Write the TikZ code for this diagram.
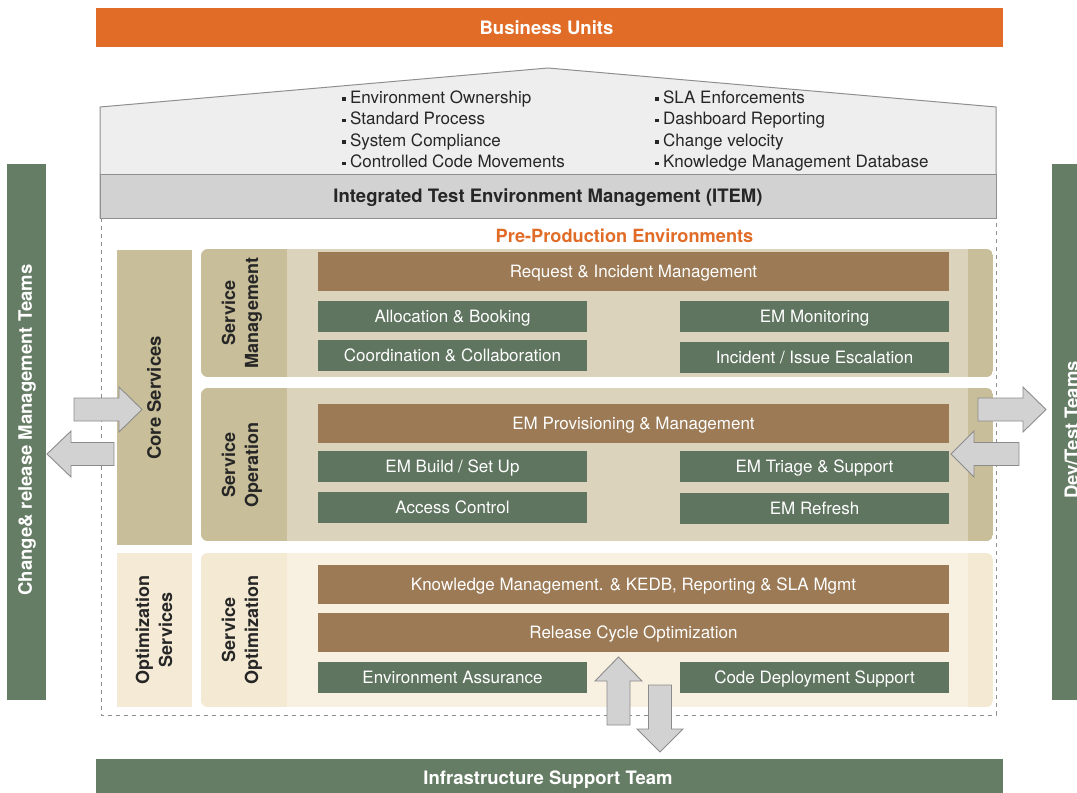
\documentclass[tikz,border=0pt]{standalone}
\usepackage{fontspec}
\setmainfont{TeX Gyre Heros}
\definecolor{orangeC}{HTML}{E06C28}
\definecolor{brownC}{HTML}{9B7A55}
\definecolor{greenC}{HTML}{5F7560}
\definecolor{sideG}{HTML}{667D65}
\definecolor{tanC}{HTML}{C8BE99}
\definecolor{panelC}{HTML}{DBD3BC}
\definecolor{optPanel}{HTML}{F8F0E1}
\definecolor{optDark}{HTML}{F4E9D3}
\definecolor{optSvc}{HTML}{F4EAD5}
\definecolor{arrowF}{HTML}{D1D2D1}
\definecolor{arrowD}{HTML}{8C8C8C}
\definecolor{roofF}{HTML}{EEEEEE}
\definecolor{itemF}{HTML}{D1D2D1}
\definecolor{lineG}{HTML}{8F8F8F}
\definecolor{textD}{HTML}{262626}
\newcommand\sqbul{\raisebox{0.28ex}{\rule{3.4pt}{3.4pt}}\hspace{4.5pt}}
\begin{document}
\begin{tikzpicture}[x=1pt,y=-1pt,
  txt/.style={font=\fontsize{17}{20}\selectfont, text height=12.2pt, text depth=0pt},
  head/.style={font=\bfseries\fontsize{18.5}{22}\selectfont, text height=13.3pt, text depth=0pt},
  brownbox/.style={fill=brownC, text=white, inner sep=0pt, minimum width=631pt, minimum height=39pt, txt},
  greenbox/.style={fill=greenC, text=white, inner sep=0pt, minimum width=269pt, minimum height=31pt, txt},
  bul/.style={anchor=west, inner sep=0pt, text=textD, txt},
  rotlab/.style={rotate=90, align=center, text=textD, font=\bfseries\fontsize{18}{23}\selectfont},
  blockarrow/.style={fill=arrowF, draw=arrowD, line width=0.9pt, line join=miter},
  sidebar/.style={fill=sideG},
]
\useasboundingbox (0,0) rectangle (1077,793);
\clip (0,0) rectangle (1077,793);

% Business units
\node[fill=orangeC, minimum width=907pt, minimum height=39pt, inner sep=0pt] (bu) at (549.5,27.5) {};
\node[text=white, head, inner sep=0pt] (but) at (546.5,28) {Business Units};

% Roof
\draw[fill=roofF, draw=lineG, line width=1pt] (100,107) -- (548,68) -- (996,107) -- (996,218) -- (100,218) -- cycle;
\node[fill=itemF, draw=lineG, line width=1pt, minimum width=896pt, minimum height=44pt, inner sep=0pt, head, text=textD] (item) at (548,196) {Integrated Test Environment Management (ITEM)};

\node[bul] (b1) at (342,97) {\sqbul Environment Ownership};
\node[bul] (b2) at (342,118.5) {\sqbul Standard Process};
\node[bul] (b3) at (342,140) {\sqbul System Compliance};
\node[bul] (b4) at (342,161.5) {\sqbul Controlled Code Movements};
\node[bul] (b5) at (655,97) {\sqbul SLA Enforcements};
\node[bul] (b6) at (655,118.5) {\sqbul Dashboard Reporting};
\node[bul] (b7) at (655,140) {\sqbul Change velocity};
\node[bul] (b8) at (655,161.5) {\sqbul Knowledge Management Database};

% dashed outline
\draw[lineG, line width=0.8pt, dash pattern=on 4pt off 4pt] (101,218) -- (101,715) -- (996,715) -- (996,218);

\node[text=orangeC, head, font=\bfseries\fontsize{18.2}{22}\selectfont] (pre) at (624.5,236) {Pre-Production Environments};

% side columns
\fill[tanC] (117,250) rectangle (192,545);
\node[rotlab, font=\fontsize{18.5}{23}\selectfont\bfseries] (core) at (154,398) {Core Services};
\fill[optSvc] (117,553) rectangle (192,707);
\node[rotlab] (opts) at (154,630) {Optimization\\Services};

% panels
\begin{scope}
\clip[rounded corners=7pt] (201,249) rectangle (993,377);
\fill[panelC] (201,249) rectangle (993,377);
\fill[tanC] (201,249) rectangle (287,377);
\fill[tanC] (968,249) rectangle (993,377);
\end{scope}
\begin{scope}
\clip[rounded corners=7pt] (201,388) rectangle (993,541);
\fill[panelC] (201,388) rectangle (993,541);
\fill[tanC] (201,388) rectangle (287,541);
\fill[tanC] (968,388) rectangle (993,541);
\end{scope}
\begin{scope}
\clip[rounded corners=7pt] (201,553) rectangle (993,707);
\fill[optPanel] (201,553) rectangle (993,707);
\fill[optDark] (201,553) rectangle (287,707);
\fill[optDark] (968,553) rectangle (993,707);
\end{scope}
\node[rotlab] (sm) at (242,313) {Service\\Management};
\node[rotlab] (so) at (242,465) {Service\\Operation};
\node[rotlab] (sopt) at (242,630) {Service\\Optimization};

% boxes
\node[brownbox] (rim) at (633.5,271.5) {Request \& Incident Management};
\node[greenbox] (alloc) at (452.5,316.5) {Allocation \& Booking};
\node[greenbox] (coord) at (452.5,355.5) {Coordination \& Collaboration};
\node[greenbox] (emmon) at (814.5,316) {EM Monitoring};
\node[greenbox] (incid) at (814.5,357.5) {Incident / Issue Escalation};

\node[brownbox] (emprov) at (633.5,423.5) {EM Provisioning \& Management};
\node[greenbox] (build) at (452.5,466.5) {EM Build / Set Up};
\node[greenbox] (access) at (452.5,507.5) {Access Control};
\node[greenbox] (triage) at (814.5,466.5) {EM Triage \& Support};
\node[greenbox] (refresh) at (814.5,508.5) {EM Refresh};

\node[brownbox] (kedb) at (633.5,584.5) {Knowledge Management. \& KEDB, Reporting \& SLA Mgmt};
\node[brownbox] (rco) at (633.5,632.5) {Release Cycle Optimization};
\node[greenbox] (assur) at (452.5,677.5) {Environment Assurance};
\node[greenbox] (codedep) at (814.5,677.5) {Code Deployment Support};

% side bars
\node[sidebar, minimum width=39pt, minimum height=536pt, inner sep=0pt] (crm) at (26.5,432) {};
\node[rotate=90, text=white, font=\bfseries\fontsize{18.5}{22}\selectfont] (crmt) at (27,430) {Change\& release Management Teams};
\node[sidebar, minimum width=40pt, minimum height=536pt, inner sep=0pt] (dev) at (1072,432) {};
\node[rotate=90, text=white, font=\bfseries\fontsize{18.5}{22}\selectfont] (devt) at (1071.5,430) {Dev/Test Teams};

% bottom bar
\node[fill=sideG, minimum width=907pt, minimum height=36pt, inner sep=0pt] (ist) at (549.5,777) {};
\node[text=white, head, inner sep=0pt] (istt) at (548,778) {Infrastructure Support Team};

% block arrows
\draw[blockarrow] (74,398) -- (119,398) -- (119,387) -- (142,409.5) -- (119,432) -- (119,421) -- (74,421) -- cycle;
\draw[blockarrow] (114,442.5) -- (71,442.5) -- (71,431) -- (47,454) -- (71,477) -- (71,465.5) -- (114,465.5) -- cycle;
\draw[blockarrow] (978,398) -- (1023,398) -- (1023,387) -- (1046,409.5) -- (1023,432) -- (1023,421) -- (978,421) -- cycle;
\draw[blockarrow] (1019,442.5) -- (974,442.5) -- (974,431) -- (951,454) -- (974,477) -- (974,465.5) -- (1019,465.5) -- cycle;
\draw[blockarrow] (607,725) -- (607,681) -- (595,681) -- (618.5,657) -- (642,681) -- (630,681) -- (630,725) -- cycle;
\draw[blockarrow] (648.5,685) -- (648.5,729) -- (637,729) -- (660,752) -- (683,729) -- (671.5,729) -- (671.5,685) -- cycle;
\end{tikzpicture}
\end{document}
